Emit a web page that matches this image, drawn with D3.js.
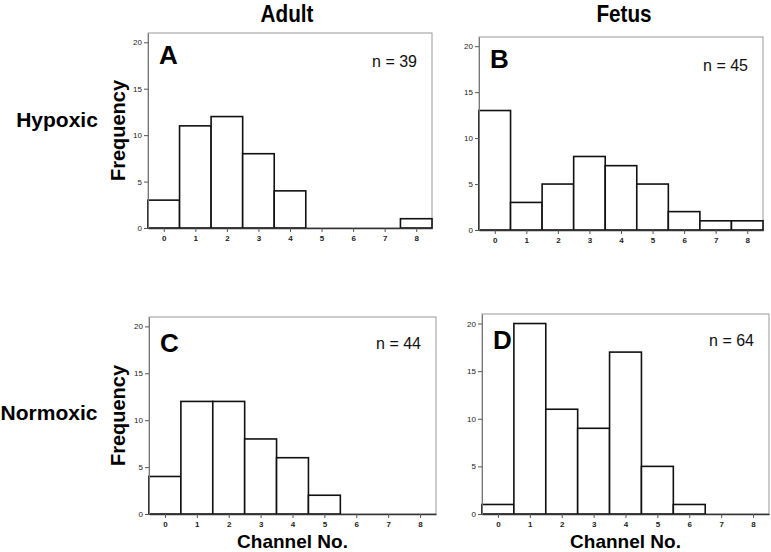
<!DOCTYPE html>
<html><head><meta charset="utf-8">
<script src="https://cdn.jsdelivr.net/npm/d3@7"></script>
<style>
body{margin:0;background:#fff;}
svg{display:block;font-family:Arial,"Liberation Sans",sans-serif;}
</style></head>
<body>
<svg id="c" width="771" height="552"></svg>
<script>
// ---- data ----
const channels = [0,1,2,3,4,5,6,7,8];
const yTicks = [0,5,10,15,20];
const adultHypoxic   = [3,11,12,8,4,0,0,0,1];
const fetusHypoxic   = [13,3,5,8,7,5,2,1,1];
const adultNormoxic  = [4,12,12,8,6,2,0,0,0];
const fetusNormoxic  = [1,20,11,9,17,5,1,0,0];
const panelLetters = ["A","B","C","D"];
const panelN = [39,45,44,64];
const columnTitles = ["Adult","Fetus"];
const rowTitles = ["Hypoxic","Normoxic"];

const series = [adultHypoxic, fetusHypoxic, adultNormoxic, fetusNormoxic];
// layout: [left, right, top, bottom]
const boxes = [[148,432,33,228],[479,763,37,230],[149,436,317,514],[482,769,314,514]];

const svg = d3.select("#c");

series.forEach((vals,i)=>{
  const [L,R,T,B] = boxes[i];
  const x = d3.scaleLinear().domain([-0.5,8.5]).range([L,R]);
  const y = d3.scaleLinear().domain([0,21]).range([B,T]);
  const g = svg.append("g");
  // frame
  g.append("rect").attr("x",L).attr("y",T).attr("width",R-L).attr("height",B-T)
    .attr("fill","none").attr("stroke","#999").attr("stroke-width",1);
  // bars
  g.selectAll("rect.bar").data(vals.map((v,k)=>({c:channels[k],v})).filter(d=>d.v>0))
    .enter().append("rect").attr("class","bar")
    .attr("x",d=>x(d.c-0.5)).attr("width",d=>x(d.c+0.5)-x(d.c-0.5))
    .attr("y",d=>y(d.v)).attr("height",d=>y(0)-y(d.v))
    .attr("fill","#fff").attr("stroke","#111").attr("stroke-width",1.6);
  // axes
  const xa = g.append("g").attr("transform",`translate(0,${B})`)
    .call(d3.axisBottom(x).tickValues(channels).tickSize(4).tickSizeOuter(0).tickPadding(3));
  xa.select(".domain").attr("stroke","#333").attr("stroke-width",1.3);
  xa.selectAll(".tick line").attr("stroke","#555");
  xa.selectAll("text").attr("font-size",8).attr("font-weight","bold").attr("fill","#222")
    .attr("font-family","Arial,'Liberation Sans',sans-serif");
  const ya = g.append("g").attr("transform",`translate(${L},0)`)
    .call(d3.axisLeft(y).tickValues(yTicks).tickSize(4).tickSizeOuter(0).tickPadding(2));
  ya.select(".domain").attr("stroke","#777");
  ya.selectAll(".tick line").attr("stroke","#555");
  ya.selectAll("text").attr("font-size",8).attr("fill","#222")
    .attr("font-family","Arial,'Liberation Sans',sans-serif");
  // panel letter
  g.append("text").attr("x",L+11).attr("y",T+(i<2?31:35)).text(panelLetters[i])
    .attr("font-size",26).attr("font-weight","bold").attr("fill","#000");
  // n label
  g.append("text").attr("x",R-15).attr("y",T+(i<2?34:32)).attr("text-anchor","end")
    .text("n = "+panelN[i]).attr("font-size",16).attr("fill","#111");
  // y label (left column only)
  if(i%2===0){
    svg.append("text").attr("transform",`translate(125,${(T+B)/2}) rotate(-90)`)
      .attr("text-anchor","middle").text("Frequency")
      .attr("font-size",20).attr("font-weight","bold").attr("fill","#000");
  }
  // x label (bottom row)
  if(i>=2){
    svg.append("text").attr("x",(L+R)/2).attr("y",548).attr("text-anchor","middle")
      .text("Channel No.").attr("font-size",19).attr("font-weight","bold").attr("fill","#000");
  }
});

// column titles (condensed look)
[[287,columnTitles[0]],[624,columnTitles[1]]].forEach(([cx,t])=>{
  svg.append("text").attr("transform",`translate(${cx},22) scale(0.9,1)`)
    .attr("text-anchor","middle").text(t)
    .attr("font-size",23).attr("font-weight","bold").attr("fill","#000");
});
// row titles
svg.append("text").attr("x",57).attr("y",127).attr("text-anchor","middle").text(rowTitles[0])
  .attr("font-size",21).attr("font-weight","bold").attr("fill","#000");
svg.append("text").attr("x",49).attr("y",420).attr("text-anchor","middle").text(rowTitles[1])
  .attr("font-size",21).attr("font-weight","bold").attr("fill","#000");
</script>
</body></html>
